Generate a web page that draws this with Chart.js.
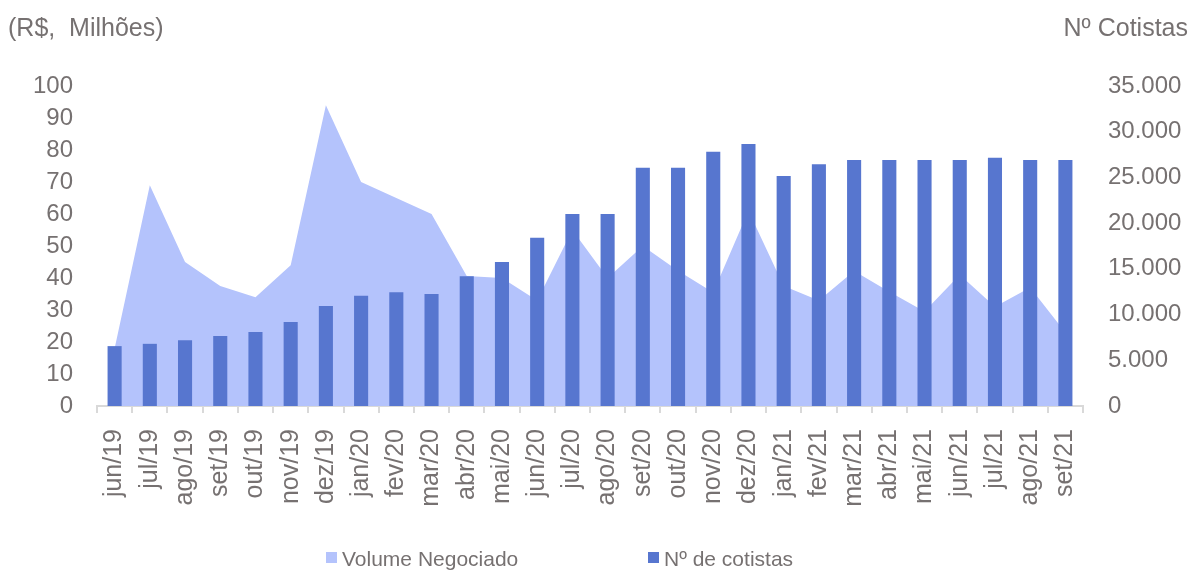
<!DOCTYPE html>
<html>
<head>
<meta charset="utf-8">
<script src="https://cdn.jsdelivr.net/npm/chart.js@4.4.1/dist/chart.umd.min.js"></script>
<style>
  html, body { margin: 0; padding: 0; background: #ffffff; }
  #wrap { position: relative; width: 1195px; height: 572px; }
</style>
</head>
<body>
<div id="wrap"><canvas id="c" width="1195" height="572"></canvas></div>
<script>
const categories = ['jun/19','jul/19','ago/19','set/19','out/19','nov/19','dez/19','jan/20','fev/20','mar/20','abr/20','mai/20','jun/20','jul/20','ago/20','set/20','out/20','nov/20','dez/20','jan/21','fev/21','mar/21','abr/21','mai/21','jun/21','jul/21','ago/21','set/21'];
const volumeNegociado = [18, 69, 45, 37.5, 34, 44, 94, 70, 65, 60, 40.6, 40, 33, 55, 40, 50, 42.3, 35.5, 61, 37.5, 33, 42.2, 35.7, 29.5, 41, 31, 37, 23];
const numCotistas = [6550, 6800, 7200, 7650, 8100, 9200, 10950, 12050, 12450, 12250, 14200, 15750, 18400, 21000, 21000, 26050, 26050, 27800, 28650, 25150, 26450, 26900, 26900, 26900, 26900, 27150, 26900, 26900];
const leftTicks = [0, 10, 20, 30, 40, 50, 60, 70, 80, 90, 100];
const rightTicks = [0, 5000, 10000, 15000, 20000, 25000, 30000, 35000];
const seriesNames = ['Volume Negociado', 'Nº de cotistas'];
const axisTitles = ['(R$,  Milhões)', 'Nº Cotistas'];

const TEXT = '#767171';
const AREA = '#B4C3FC';
const BAR = '#5776CF';
const FONT = "'Liberation Sans', Arial, sans-serif";

function fmtBR(v) {
  return String(Math.round(v)).replace(/\B(?=(\d{3})+(?!\d))/g, '.');
}

const extras = {
  id: 'extras',
  afterDraw(chart) {
    const ctx = chart.ctx;
    ctx.save();
    ctx.fillStyle = TEXT;
    ctx.font = '25px ' + FONT;
    ctx.textBaseline = 'middle';
    ctx.textAlign = 'left';
    ctx.fillText(axisTitles[0], 8, 29);
    ctx.textAlign = 'right';
    ctx.fillText(axisTitles[1], 1188, 29);
    // legend
    ctx.font = '21px ' + FONT;
    ctx.textBaseline = 'alphabetic';
    ctx.textAlign = 'left';
    const items = [
      { x: 326, color: AREA, text: seriesNames[0] },
      { x: 648, color: BAR, text: seriesNames[1] }
    ];
    items.forEach(it => {
      ctx.fillStyle = it.color;
      ctx.fillRect(it.x, 552, 11, 11);
      ctx.fillStyle = TEXT;
      ctx.fillText(it.text, it.x + 16, 566);
    });
    ctx.restore();
  }
};

new Chart(document.getElementById('c'), {
  type: 'bar',
  data: {
    labels: categories,
    datasets: [
      {
        type: 'bar',
        label: seriesNames[1],
        data: numCotistas,
        backgroundColor: BAR,
        borderWidth: 0,
        yAxisID: 'y1',
        barPercentage: 0.4,
        categoryPercentage: 1.0,
        order: 0
      },
      {
        type: 'line',
        label: seriesNames[0],
        data: volumeNegociado,
        backgroundColor: AREA,
        borderColor: AREA,
        borderWidth: 0,
        pointRadius: 0,
        tension: 0,
        fill: 'origin',
        yAxisID: 'y',
        order: 1
      }
    ]
  },
  options: {
    responsive: false,
    animation: false,
    devicePixelRatio: 1,
    layout: { padding: { top: 86, left: 0, right: 0, bottom: 0 } },
    plugins: {
      legend: { display: false },
      tooltip: { enabled: false },
      title: { display: false }
    },
    scales: {
      x: {
        offset: true,
        grid: {
          offset: true,
          drawOnChartArea: false,
          drawTicks: true,
          tickLength: 7,
          color: '#D9D9D9',
          lineWidth: 2
        },
        border: { display: true, color: '#D9D9D9', width: 2 },
        ticks: {
          autoSkip: false,
          maxRotation: 90,
          minRotation: 90,
          padding: 16,
          color: TEXT,
          font: { family: FONT, size: 25 }
        },
        afterFit(scale) { scale.height = 166; }
      },
      y: {
        position: 'left',
        min: leftTicks[0],
        max: leftTicks[leftTicks.length - 1],
        afterBuildTicks(scale) { scale.ticks = leftTicks.map(v => ({ value: v })); },
        grid: { display: false, drawTicks: false },
        border: { display: false },
        ticks: {
          autoSkip: false,
          padding: 24,
          color: TEXT,
          font: { family: FONT, size: 24 }
        },
        afterFit(scale) { scale.width = 97; }
      },
      y1: {
        position: 'right',
        min: rightTicks[0],
        max: rightTicks[rightTicks.length - 1],
        afterBuildTicks(scale) { scale.ticks = rightTicks.map(v => ({ value: v })); },
        grid: { display: false, drawTicks: false },
        border: { display: false },
        ticks: {
          autoSkip: false,
          padding: 25,
          color: TEXT,
          font: { family: FONT, size: 24 },
          callback: (v) => fmtBR(v)
        },
        afterFit(scale) { scale.width = 112; }
      }
    }
  },
  plugins: [extras]
});
</script>
</body>
</html>
